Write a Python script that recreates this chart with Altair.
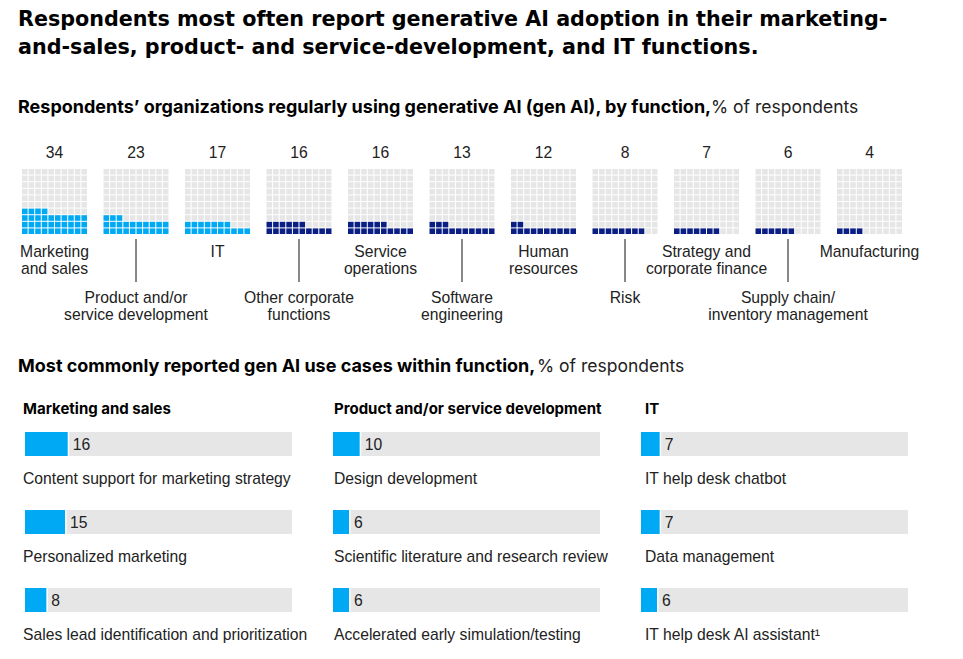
import altair as alt
import pandas as pd

# ---------------- data ----------------
title_lines = [
    "Respondents most often report generative AI adoption in their marketing-",
    "and-sales, product- and service-development, and IT functions.",
]
sub1_bold = "Respondents’ organizations regularly using generative AI (gen AI), by function,"
sub2_bold = "Most commonly reported gen AI use cases within function,"
sub_unit = "% of respondents"

functions = [
    "Marketing\nand sales",
    "Product and/or\nservice development",
    "IT",
    "Other corporate\nfunctions",
    "Service\noperations",
    "Software\nengineering",
    "Human\nresources",
    "Risk",
    "Strategy and\ncorporate finance",
    "Supply chain/\ninventory management",
    "Manufacturing",
]
adoption = [34, 23, 17, 16, 16, 13, 12, 8, 7, 6, 4]
highlight_n = 3

groups = ["Marketing and sales", "Product and/or service development", "IT"]
use_cases = [
    ["Content support for marketing strategy", "Personalized marketing",
     "Sales lead identification and prioritization"],
    ["Design development", "Scientific literature and research review",
     "Accelerated early simulation/testing"],
    ["IT help desk chatbot", "Data management", "IT help desk AI assistant¹"],
]
use_values = [[16, 15, 8], [10, 6, 6], [7, 7, 6]]

# ---------------- style ----------------
CYAN = "#00A9F4"
NAVY = "#0B1E84"
GRAY = "#E6E6E6"
INK = "#222222"
TITLE_FONT = "DejaVu Sans"
BOLD_FONT = "Inter"
BODY_FONT = "Liberation Sans"
BODY_SIZE = 15.7

W, H1 = 947, 385
STEP, LEFT0, PITCH, CELL, BASE = 81.5, 14, 6.6, 5.6, 226
TEXT_DX = [-2, 1, 4]

xs = alt.Scale(domain=[0, W], range=[0, W])
ys = alt.Scale(domain=[0, H1], range=[0, H1])

# waffle cells
cells = []
for i, v in enumerate(adoption):
    left = LEFT0 + i * STEP
    for k in range(100):
        r, c = divmod(k, 10)
        x0 = left + c * PITCH
        yb = BASE - r * PITCH
        col = (CYAN if i < highlight_n else NAVY) if k < v else GRAY
        cells.append(dict(x=x0, x2=x0 + CELL, y=yb - CELL, y2=yb, color=col))
cells_df = pd.DataFrame(cells)

centers = [LEFT0 + i * STEP + (10 * PITCH - (PITCH - CELL)) / 2 for i in range(len(adoption))]
num_df = pd.DataFrame({"x": centers, "y": [145] * len(adoption), "t": [str(v) for v in adoption]})
lab_df = pd.DataFrame({
    "x": centers,
    "y": [236.5 if i % 2 == 0 else 282.5 for i in range(len(functions))],
    "t": functions,
})
rule_df = pd.DataFrame({
    "x": [centers[i] for i in range(len(functions)) if i % 2 == 1],
    "y": 231, "y2": 274,
})
title_df = pd.DataFrame({"x": [10, 10], "y": [12, 40], "t": title_lines})
subb_df = pd.DataFrame({"x": [10, 10], "y": [100, 359], "t": [sub1_bold, sub2_bold]})
subn_df = pd.DataFrame({"x": [703, 529], "y": [100, 359], "t": [sub_unit, sub_unit]})

X = lambda f: alt.X(f, type="quantitative", scale=xs, axis=None)
Y = lambda f: alt.Y(f, type="quantitative", scale=ys, axis=None)

rects = alt.Chart(cells_df).mark_rect().encode(
    x=X("x"), x2="x2", y=Y("y"), y2="y2", color=alt.Color("color:N", scale=None)
)
nums = alt.Chart(num_df).mark_text(font=BODY_FONT, fontSize=BODY_SIZE, color=INK, baseline="middle").encode(
    x=X("x"), y=Y("y"), text="t:N")
labs = alt.Chart(lab_df).mark_text(font=BODY_FONT, fontSize=BODY_SIZE, color=INK, baseline="top",
                                   lineBreak="\n", lineHeight=17).encode(
    x=X("x"), y=Y("y"), text="t:N")
rules = alt.Chart(rule_df).mark_rule(color="#111111", strokeWidth=1).encode(
    x=X("x"), y=Y("y"), y2="y2")
titles = alt.Chart(title_df).mark_text(font=TITLE_FONT, fontSize=20.7, fontWeight="bold", color="#000000",
                                       align="left", baseline="middle").encode(
    x=X("x"), y=Y("y"), text="t:N")
subb = alt.Chart(subb_df).mark_text(font=BOLD_FONT, fontSize=18, fontWeight="bold", color="#000000",
                                    align="left", baseline="middle").encode(
    x=X("x"), y=Y("y"), text="t:N")
subn = alt.Chart(subn_df).mark_text(font=BOLD_FONT, fontSize=17.5, color=INK,
                                    align="left", baseline="middle").encode(
    x=X("x"), y=Y("y"), text="t:N")

top = alt.layer(rects, rules, nums, labs, titles, subb, subn).properties(width=W, height=H1)


def panel(j):
    df = pd.DataFrame({"row": [0, 1, 2], "label": use_cases[j], "value": use_values[j]})
    xsb = alt.Scale(domain=[0, 100], range=[17, 284])
    ysb = alt.Scale(domain=[0, 1, 2], paddingInner=0, paddingOuter=0)
    yenc = alt.Y("row:O", scale=ysb, axis=None)
    base = alt.Chart(df)
    gray = base.mark_bar(color=GRAY, height=24, xOffset=1.5).encode(
        x=alt.X("value:Q", scale=xsb, axis=None), x2=alt.datum(100), y=yenc)
    fill = base.mark_bar(color=CYAN, height=24).encode(
        x=alt.X("value:Q", scale=xsb, axis=None), y=yenc)
    val = base.mark_text(font=BODY_FONT, fontSize=BODY_SIZE, color=INK, align="left", baseline="middle",
                         dx=5, dy=1).encode(
        x=alt.X("value:Q", scale=xsb, axis=None), y=yenc, text="value:Q")
    lab = base.mark_text(font=BODY_FONT, fontSize=BODY_SIZE, color=INK, align="left", baseline="middle",
                         dy=35, dx=TEXT_DX[j]).encode(
        x=alt.datum(0), y=yenc, text="label:N")
    head = alt.Chart(pd.DataFrame({"t": [groups[j]], "row": [0]})).mark_text(
        font=BOLD_FONT, fontSize=15, fontWeight="bold", color="#000000", align="left",
        baseline="middle", dy=-35, dx=TEXT_DX[j]).encode(
        x=alt.datum(0), y=yenc, text="t:N")
    return alt.layer(gray, fill, val, lab, head).properties(width=308, height=234)


bottom = alt.hconcat(*[panel(j) for j in range(3)], spacing=0, bounds="flush").resolve_scale(
    x="independent", y="independent")

chart = alt.vconcat(top, bottom, spacing=12, bounds="flush").resolve_scale(
    x="independent", y="independent", color="independent"
).properties(padding=0, background="white").configure_view(strokeWidth=0)

chart.save("out.html", embed_options={"renderer": "svg", "actions": False})
